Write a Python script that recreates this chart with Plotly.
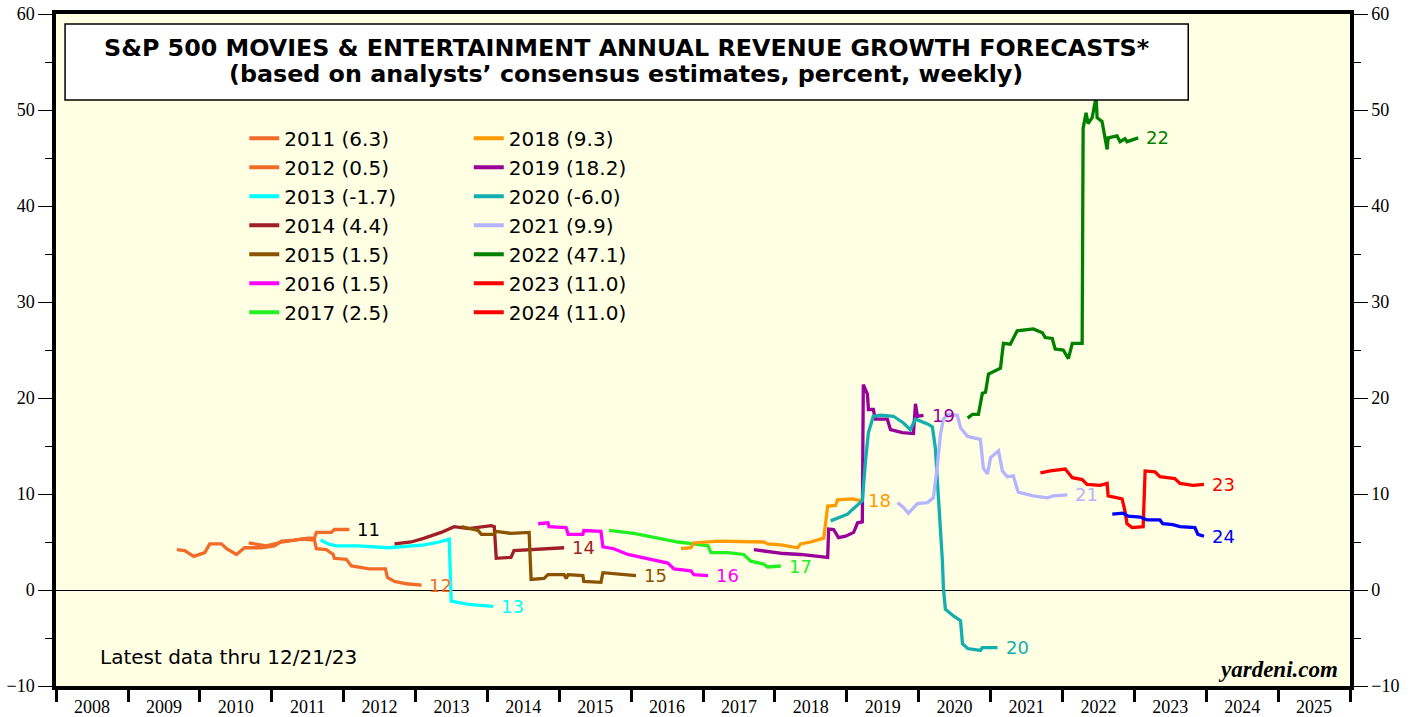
import plotly.graph_objects as go

# forecast series, weekly estimates (date, percent)
d2011 = ["2009-09-06", "2009-10-16", "2009-12-01", "2010-01-26", "2010-02-20", "2010-04-21", "2010-05-17",
         "2010-07-06", "2010-08-16", "2010-11-10", "2011-01-15", "2011-02-20", "2011-04-26", "2011-07-06",
         "2011-08-06", "2011-08-16", "2011-10-31", "2011-11-15", "2012-01-31"]
v2011 = [4.2, 4.1, 3.5, 3.9, 4.8, 4.8, 4.3, 3.7, 4.4, 4.4, 4.6, 5.1, 5.2, 5.4, 5.4, 6.0, 6.0, 6.3, 6.3]

d2012 = ["2010-09-06", "2010-12-06", "2011-02-20", "2011-06-01", "2011-08-06", "2011-08-16", "2011-10-05",
         "2011-11-10", "2011-11-15", "2012-01-15", "2012-02-10", "2012-04-11", "2012-05-11", "2012-08-01",
         "2012-08-11", "2012-09-16", "2012-11-15", "2013-01-31"]
v2012 = [4.9, 4.6, 5.0, 5.3, 5.2, 4.3, 4.2, 3.7, 3.3, 3.2, 2.5, 2.3, 2.2, 2.2, 1.3, 0.9, 0.65, 0.5]

d2013 = ["2011-09-06", "2011-10-16", "2011-11-25", "2012-03-16", "2012-08-16", "2012-11-25", "2013-02-15",
         "2013-05-01", "2013-06-21", "2013-07-01", "2013-09-26", "2014-01-31"]
v2013 = [5.2, 4.8, 4.6, 4.6, 4.4, 4.6, 4.7, 5.0, 5.3, -1.15, -1.5, -1.7]

d2014 = ["2012-09-16", "2012-12-10", "2013-02-15", "2013-05-11", "2013-07-16", "2013-09-26", "2014-01-21",
         "2014-02-05", "2014-02-15", "2014-05-01", "2014-05-16", "2014-08-26", "2015-01-26"]
v2014 = [4.8, 5.0, 5.4, 6.0, 6.6, 6.4, 6.7, 6.6, 3.3, 3.4, 4.1, 4.2, 4.4]

d2015 = ["2013-08-21", "2013-11-15", "2013-12-01", "2014-01-31", "2014-02-15", "2014-05-01", "2014-08-01",
         "2014-08-11", "2014-10-16", "2014-11-05", "2015-01-26", "2015-02-05", "2015-02-15", "2015-05-01",
         "2015-05-06", "2015-08-01", "2015-08-11", "2015-10-26", "2016-01-26"]
v2015 = [6.6, 6.2, 5.8, 5.8, 6.1, 5.9, 6.0, 1.1, 1.2, 1.6, 1.6, 1.2, 1.6, 1.5, 0.9, 0.8, 1.8, 1.7, 1.5]

d2016 = ["2014-09-16", "2014-11-05", "2014-11-10", "2015-02-05", "2015-02-15", "2015-05-01", "2015-05-06",
         "2015-08-01", "2015-08-11", "2015-10-05", "2015-12-16", "2016-02-20", "2016-04-26", "2016-07-06",
         "2016-08-06", "2016-10-31", "2016-11-15", "2017-01-26"]
v2016 = [6.9, 7.0, 6.6, 6.5, 5.8, 5.8, 6.2, 6.1, 4.5, 4.3, 3.7, 3.4, 3.1, 2.8, 2.2, 2.0, 1.6, 1.5]

d2017 = ["2015-09-11", "2016-01-15", "2016-05-16", "2016-08-26", "2016-11-15", "2017-01-26", "2017-02-10",
         "2017-05-06", "2017-07-26", "2017-09-01", "2017-11-05", "2017-11-25", "2018-01-31"]
v2017 = [6.2, 5.9, 5.4, 5.0, 4.8, 4.6, 3.9, 3.9, 3.7, 3.0, 2.7, 2.4, 2.5]

d2018 = ["2016-09-11", "2016-10-31", "2016-11-15", "2017-03-16", "2017-11-05", "2017-11-25", "2018-01-31",
         "2018-04-26", "2018-05-11", "2018-07-01", "2018-09-06", "2018-09-26", "2018-11-05", "2018-11-15",
         "2019-01-31", "2019-03-11"]
v2018 = [4.3, 4.4, 4.9, 5.1, 5.0, 4.8, 4.7, 4.4, 4.8, 5.0, 5.4, 8.75, 8.8, 9.4, 9.5, 9.3]

d2019 = ["2017-09-16", "2017-11-25", "2018-02-15", "2018-05-11", "2018-08-06", "2018-09-26", "2018-10-01",
         "2018-10-26", "2018-11-20", "2018-12-26", "2019-02-05", "2019-02-25", "2019-03-21", "2019-03-26",
         "2019-04-16", "2019-04-21", "2019-05-16", "2019-05-26", "2019-07-26", "2019-08-11", "2019-10-11",
         "2019-12-06", "2019-12-16", "2019-12-26", "2020-01-26"]
v2019 = [4.2, 4.0, 3.8, 3.7, 3.5, 3.4, 6.35, 6.3, 5.45, 5.6, 6.0, 7.0, 7.1, 21.4, 20.4, 18.8, 18.8, 17.8,
         17.8, 16.7, 16.4, 16.3, 19.4, 18.1, 18.2]

d2020 = ["2018-10-11", "2018-12-01", "2019-01-05", "2019-02-05", "2019-03-21", "2019-04-06", "2019-04-21",
         "2019-05-16", "2019-06-21", "2019-08-26", "2019-10-16", "2019-11-20", "2019-12-16", "2020-02-15",
         "2020-03-11", "2020-03-26", "2020-04-11", "2020-05-01", "2020-05-06", "2020-05-16", "2020-06-26",
         "2020-08-01", "2020-08-11", "2020-09-06", "2020-11-10", "2020-11-20", "2021-02-05"]
v2020 = [7.2, 7.6, 7.9, 8.5, 9.3, 13.4, 16.4, 18.1, 18.2, 18.1, 17.4, 16.7, 17.8, 17.3, 17.0, 14.8, 10.0,
         3.0, 0.2, -2.0, -2.7, -3.2, -5.6, -6.1, -6.3, -6.0, -6.0]

d2021 = ["2019-09-16", "2019-10-16", "2019-11-10", "2019-12-06", "2019-12-26", "2020-02-15", "2020-03-16",
         "2020-04-06", "2020-04-21", "2020-05-06", "2020-06-01", "2020-07-16", "2020-08-01", "2020-09-06",
         "2020-11-10", "2020-11-25", "2020-12-16", "2021-01-01", "2021-02-10", "2021-03-02", "2021-03-26",
         "2021-04-26", "2021-05-21", "2021-08-06", "2021-10-16", "2021-11-15", "2022-01-26"]
v2021 = [9.1, 8.6, 8.0, 8.5, 9.0, 9.1, 9.6, 13.1, 16.2, 17.8, 18.3, 18.2, 16.9, 16.0, 15.7, 12.7, 12.1,
         13.8, 14.5, 12.4, 11.8, 11.9, 10.2, 9.8, 9.6, 9.8, 9.9]

d2022 = ["2020-09-06", "2020-10-01", "2020-10-31", "2020-11-20", "2020-12-06", "2020-12-21", "2021-02-20",
         "2021-03-07", "2021-04-11", "2021-05-16", "2021-08-06", "2021-09-21", "2021-10-05", "2021-11-10",
         "2021-11-25", "2022-01-05", "2022-01-31", "2022-02-20", "2022-04-11", "2022-04-16", "2022-05-01",
         "2022-05-11", "2022-06-01", "2022-06-21", "2022-06-26", "2022-07-21", "2022-08-16", "2022-08-21",
         "2022-10-05", "2022-10-21", "2022-11-15", "2022-11-25", "2023-01-21"]
v2022 = [17.9, 18.3, 18.3, 20.5, 20.6, 22.5, 23.1, 25.7, 25.6, 27.0, 27.2, 26.8, 26.3, 26.2, 25.1, 25.0,
         24.1, 25.7, 25.7, 48.1, 49.7, 48.6, 49.2, 51.4, 49.2, 48.8, 45.9, 47.1, 47.3, 46.7, 47.0, 46.7, 47.1]

d2023 = ["2021-09-11", "2021-10-31", "2022-01-15", "2022-02-20", "2022-04-11", "2022-05-06", "2022-07-11",
         "2022-08-16", "2022-08-21", "2022-10-21", "2022-10-31", "2022-11-15", "2022-11-25", "2022-12-21",
         "2023-02-15", "2023-02-25", "2023-04-16", "2023-05-11", "2023-07-26", "2023-08-21", "2023-10-26",
         "2023-12-21"]
v2023 = [12.2, 12.4, 12.6, 11.7, 11.5, 11.0, 10.9, 11.1, 9.8, 9.6, 9.5, 8.2, 6.9, 6.5, 6.6, 12.4, 12.3,
         11.8, 11.6, 11.1, 10.9, 11.0]

d2024 = ["2022-09-11", "2022-11-05", "2022-12-01", "2023-01-31", "2023-03-07", "2023-05-11", "2023-05-26",
         "2023-07-16", "2023-08-21", "2023-11-05", "2023-11-20", "2023-12-21"]
v2024 = [7.9, 8.0, 7.7, 7.6, 7.3, 7.3, 6.9, 6.8, 6.6, 6.5, 5.8, 5.6]

legend_names = ["2011 (6.3)", "2012 (0.5)", "2013 (-1.7)", "2014 (4.4)", "2015 (1.5)", "2016 (1.5)",
                "2017 (2.5)", "2018 (9.3)", "2019 (18.2)", "2020 (-6.0)", "2021 (9.9)", "2022 (47.1)",
                "2023 (11.0)", "2024 (11.0)"]
end_labels = ["11", "12", "13", "14", "15", "16", "17", "18", "19", "20", "21", "22", "23", "24"]
line_colors = ["#F26B2A", "#F26B2A", "#00FFFF", "#A01E28", "#8B5200", "#FF00FF", "#22F022", "#FF9A00",
               "#990099", "#13AFAF", "#B4B4FF", "#008000", "#FF0000", "#0000FF"]
legend_colors = line_colors[:13] + ["#FF0000"]
label_colors = ["#000000"] + line_colors[1:]

dates = [d2011, d2012, d2013, d2014, d2015, d2016, d2017, d2018, d2019, d2020, d2021, d2022, d2023, d2024]
values = [v2011, v2012, v2013, v2014, v2015, v2016, v2017, v2018, v2019, v2020, v2021, v2022, v2023, v2024]

SANS = "DejaVu Sans"

fig = go.Figure()

for i in range(len(dates)):
    fig.add_trace(go.Scatter(
        x=dates[i], y=values[i], mode="lines",
        line=dict(color=line_colors[i], width=3.3),
        showlegend=False, hoverinfo="skip",
        yaxis="y2" if i == len(dates) - 1 else "y",
    ))

# legend entries (2024's swatch is red in the original)
for i in range(len(legend_names)):
    fig.add_trace(go.Scatter(
        x=[None], y=[None], mode="lines", name=legend_names[i],
        line=dict(color=legend_colors[i], width=4),
        legend="legend" if i < 7 else "legend2",
    ))

for i in range(len(dates)):
    fig.add_annotation(
        x=dates[i][-1], y=values[i][-1], text=end_labels[i], showarrow=False,
        xanchor="left", yanchor="middle", xshift=6,
        font=dict(family=SANS, size=18, color=label_colors[i]),
    )

# title box
fig.add_shape(type="rect", xref="paper", yref="paper", x0=0.007, x1=0.875, y0=0.872, y1=0.985,
              fillcolor="white", line=dict(color="black", width=1.5), layer="above")
fig.add_annotation(
    xref="paper", yref="paper", x=0.4405, y=0.949, showarrow=False, yanchor="middle",
    text="<b>S&P 500 MOVIES & ENTERTAINMENT ANNUAL REVENUE GROWTH FORECASTS*</b>",
    font=dict(family=SANS, size=23.8, color="black"),
)
fig.add_annotation(
    xref="paper", yref="paper", x=0.4405, y=0.911, showarrow=False, yanchor="middle",
    text="<b>(based on analysts\u2019 consensus estimates, percent, weekly)</b>",
    font=dict(family=SANS, size=23.8, color="black"),
)
fig.add_annotation(xref="paper", yref="paper", x=0.0325, y=0.043, showarrow=False,
                   xanchor="left", yanchor="middle", text="Latest data thru 12/21/23",
                   font=dict(family=SANS, size=20, color="black"))
fig.add_annotation(xref="paper", yref="paper", x=0.992, y=0.024, showarrow=False,
                   xanchor="right", yanchor="middle", text="<b><i>yardeni.com</i></b>",
                   font=dict(family="Liberation Serif", size=23, color="black"))

tickfont = dict(family="Liberation Serif", size=18, color="black")
yax = dict(
    range=[-10, 60], dtick=10, tick0=0, ticks="outside", ticklen=14, tickwidth=1.2, tickcolor="black",
    showline=True, linewidth=3.5, linecolor="black", showgrid=False, automargin=False,
    ticklabeloverflow="allow",
    minor=dict(dtick=5, ticks="outside", ticklen=7, tickwidth=1.2, tickcolor="black"),
    tickfont=tickfont,
)

legend_font = dict(family=SANS, size=20, color="black")

fig.update_layout(
    width=1416, height=717,
    margin=dict(l=56, r=66, t=14, b=31),
    paper_bgcolor="white", plot_bgcolor="#FFFFE3",
    xaxis=dict(
        type="date", range=["2008-01-01", "2026-01-01"], dtick="M12", tick0="2008-01-01",
        tickformat="%Y", ticklabelmode="period", ticks="outside", ticklen=12, tickwidth=2.5,
        tickcolor="black", showline=True, linewidth=3.5, linecolor="black", mirror=True,
        showgrid=False, zeroline=False, tickfont=tickfont, automargin=False, ticklabelstandoff=-10,
    ),
    yaxis=dict(**yax, side="left", zeroline=True, zerolinecolor="black", zerolinewidth=1),
    yaxis2=dict(**yax, side="right", overlaying="y", zeroline=False),
    legend=dict(x=0.1455, y=0.844, xanchor="left", yanchor="top", bgcolor="rgba(0,0,0,0)",
                font=legend_font, tracegroupgap=0),
    legend2=dict(x=0.319, y=0.844, xanchor="left", yanchor="top", bgcolor="rgba(0,0,0,0)",
                 font=legend_font, tracegroupgap=0),
)

# drop the browser's default 8px body margin so the figure fills the window exactly
fig.write_html("out.html", config={"displayModeBar": False},
               post_script="document.body.style.margin='0';")
